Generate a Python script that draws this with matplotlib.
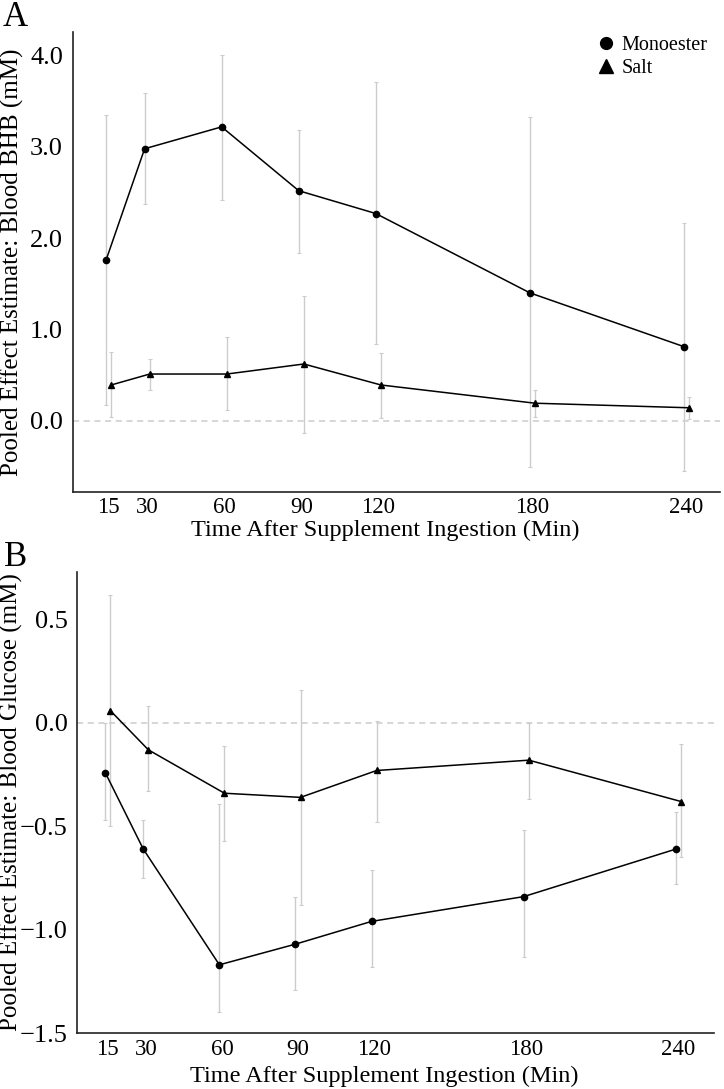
import matplotlib
matplotlib.use("Agg")
import matplotlib.pyplot as plt
from matplotlib.lines import Line2D
import numpy as np

# time points (min) after supplement ingestion
times = [15, 30, 60, 90, 120, 180, 240]
tick_labels = ["15", "30", "60", "90", "120", "180", "240"]

# Panel A: blood BHB (mM), pooled estimate with 95% CI
bhb_mono = [1.76, 2.98, 3.22, 2.52, 2.27, 1.40, 0.81]
bhb_mono_lo = [0.17, 2.37, 2.42, 1.84, 0.84, -0.51, -0.55]
bhb_mono_hi = [3.35, 3.59, 4.01, 3.19, 3.71, 3.33, 2.17]
bhb_salt = [0.39, 0.51, 0.51, 0.62, 0.39, 0.19, 0.14]
bhb_salt_lo = [0.04, 0.34, 0.12, -0.14, 0.03, 0.04, 0.02]
bhb_salt_hi = [0.75, 0.68, 0.92, 1.37, 0.74, 0.34, 0.26]

# Panel B: blood glucose (mM)
glu_mono = [-0.24, -0.61, -1.17, -1.07, -0.96, -0.84, -0.61]
glu_mono_lo = [-0.47, -0.75, -1.40, -1.29, -1.18, -1.13, -0.78]
glu_mono_hi = [0.00, -0.47, -0.39, -0.84, -0.71, -0.52, -0.43]
glu_salt = [0.06, -0.13, -0.34, -0.36, -0.23, -0.18, -0.38]
glu_salt_lo = [-0.50, -0.33, -0.57, -0.88, -0.48, -0.37, -0.65]
glu_salt_hi = [0.62, 0.08, -0.11, 0.16, 0.01, 0.00, -0.10]

DODGE = 1.0
ERR_COLOR = "#cccccc"

plt.rcParams["font.family"] = ["Liberation Serif", "DejaVu Serif"]


def fmt_tick(v):
    # long minus sign as in the original figure
    s = f"{abs(v):.1f}"
    return "\u2212" + s if v < 0 else s


def draw_series(ax, x, y, lo, hi, marker, msize, offset):
    xs = np.array(x) + offset
    y = np.array(y)
    yerr = [y - np.array(lo), np.array(hi) - y]
    ax.errorbar(xs, y, yerr=yerr, fmt="none", ecolor=ERR_COLOR,
                elinewidth=1.0, capsize=1.5, capthick=0.8, zorder=1)
    ax.plot(xs, y, color="black", lw=1.1, marker=marker, markersize=msize,
            zorder=3)


def style_axes(ax, xlim, ylim, yticks, ylabel, xlabel_pos, ylabel_x):
    ax.axhline(0, color="#cccccc", ls=(0, (4, 3)), lw=1.1, zorder=0)
    ax.set_xlim(*xlim)
    ax.set_ylim(*ylim)
    ax.set_xticks(times)
    ax.set_xticklabels(tick_labels)
    ax.set_yticks(yticks)
    ax.set_yticklabels([fmt_tick(v) for v in yticks])
    for s in ["top", "right"]:
        ax.spines[s].set_visible(False)
    for s in ["left", "bottom"]:
        ax.spines[s].set_color("#222222")
        ax.spines[s].set_linewidth(1.2)
    ax.tick_params(axis="both", length=0)
    ax.tick_params(axis="x", labelsize=16.5, pad=4)
    ax.tick_params(axis="y", labelsize=19, pad=7)
    ax.set_xlabel("Time After Supplement Ingestion (Min)", fontsize=17.5)
    ax.xaxis.set_label_coords(*xlabel_pos)
    ax.xaxis.label.set_va("center")
    ax.set_ylabel(ylabel, fontsize=18)
    ax.yaxis.set_label_coords(ylabel_x, 0.5)
    ax.yaxis.label.set_va("center")


fig = plt.figure(figsize=(7.24, 10.89), dpi=100)

axA = fig.add_axes([0.1004, 0.5485, 0.894, 0.4221])
draw_series(axA, times, bhb_mono, bhb_mono_lo, bhb_mono_hi, "o", 4.5, -DODGE)
draw_series(axA, times, bhb_salt, bhb_salt_lo, bhb_salt_hi, "^", 5, DODGE)
style_axes(axA, (1, 253), (-0.78, 4.26), [0.0, 1.0, 2.0, 3.0, 4.0],
           "Pooled Effect Estimate: Blood BHB (mM)", (0.483, -0.084), -0.093)

handles = [
    Line2D([], [], color="black", marker="o", ls="none", markersize=8.5),
    Line2D([], [], color="black", marker="^", ls="none", markersize=10),
]
axA.legend(handles, ["Monoester", "Salt"], loc="upper right",
           bbox_to_anchor=(1.0, 1.018), frameon=False, fontsize=14.5,
           handlelength=0.8, handletextpad=0.4, labelspacing=0.2,
           borderaxespad=0.2)

axB = fig.add_axes([0.1068, 0.0514, 0.8794, 0.4233])
draw_series(axB, times, glu_mono, glu_mono_lo, glu_mono_hi, "o", 4.5, -DODGE)
draw_series(axB, times, glu_salt, glu_salt_lo, glu_salt_hi, "^", 5, DODGE)
style_axes(axB, (3, 254), (-1.5, 0.73), [0.5, 0.0, -0.5, -1.0, -1.5],
           "Pooled Effect Estimate: Blood Glucose (mM)", (0.482, -0.095), -0.104)

fig.text(0.004, 0.9835, "A", fontsize=25, va="center", ha="left")
fig.text(0.006, 0.4885, "B", fontsize=25, va="center", ha="left")

fig.savefig("out.png", dpi=100)
